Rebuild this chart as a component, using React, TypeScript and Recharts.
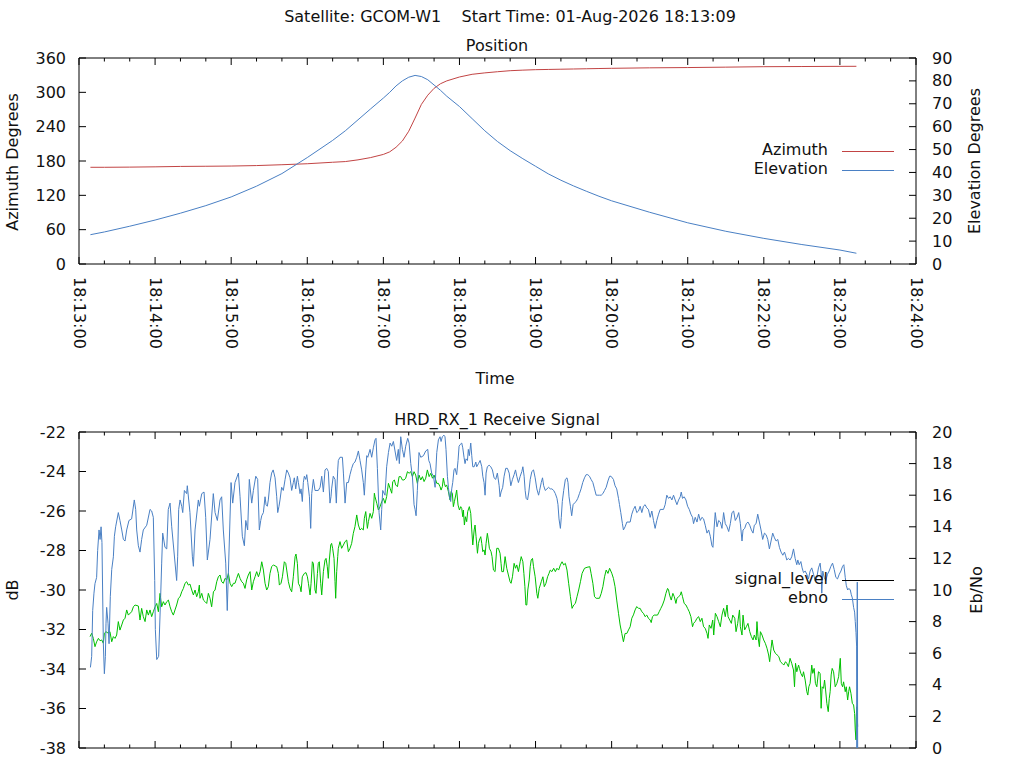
import React from 'react';
import { LineChart, Line, XAxis, YAxis, ReferenceArea } from 'recharts';

const FONT = '"DejaVu Sans", sans-serif';
const RED = '#c24444';
const BLUE = '#4a80c4';
const GREEN = '#00c000';

// seconds after 18:13:00
const timeTicks = [0, 20, 40, 60, 80, 100, 120, 140, 160, 180, 200, 220, 240, 260, 280, 300, 320, 340, 360, 380, 400, 420, 440, 460, 480, 500, 520, 540, 560, 580, 600, 620, 640, 660];
const azTicks = [0, 60, 120, 180, 240, 300, 360];
const elTicks = [0, 10, 20, 30, 40, 50, 60, 70, 80, 90];
const dbTicks = [-38, -36, -34, -32, -30, -28, -26, -24, -22];
const ebTicks = [0, 2, 4, 6, 8, 10, 12, 14, 16, 18, 20];

const posTime = [9, 20, 40, 60, 80, 100, 120, 140, 160, 180, 200, 210, 220, 230, 240, 245, 250, 255, 260, 265, 270, 275, 280, 285, 290, 300, 310, 320, 330, 340, 350, 360, 370, 380, 390, 400, 410, 420, 450, 480, 510, 540, 570, 600, 613];
const azimuth = [169, 169, 169.3, 169.8, 170.5, 170.8, 171.2, 172, 173.5, 175.2, 177.8, 179, 182, 186, 191.5, 196, 204, 215, 232, 255, 279, 295, 307, 315, 320, 326.8, 331.5, 334, 336, 337.8, 338.8, 339.6, 340, 340.4, 340.8, 341.2, 341.6, 342, 342.8, 343.3, 344, 344.8, 345.1, 345.4, 345.5];
const elevation = [12.8, 14, 16.5, 19.2, 22.2, 25.5, 29.3, 34, 39.5, 46.5, 54, 58.2, 63, 67.8, 72.5, 75, 77.8, 80, 81.6, 82.4, 81.9, 80.5, 78.2, 75.9, 73.3, 68.8, 63.5, 58.2, 53.5, 49.5, 46, 42.7, 39.4, 36.6, 34.1, 31.8, 29.6, 27.6, 22.6, 18, 14.3, 11.2, 8.5, 6.1, 4.7];

// [seconds, dB]
const signalLevel: [number, number][] = [
  [8.7, -32.36], [10, -32.19], [11.3, -32.45], [12.6, -32.87], [13.9, -32.62], [15.3, -32.45], [16.6, -32.57], [17.9, -32.53], [19.2, -32.7], [20, -32.19],
  [21.3, -32.11], [23.1, -32.19], [24.4, -32.11], [25.8, -32.62], [27.1, -32.36], [28.4, -32.45], [29.7, -32.28], [31, -31.6], [32.3, -32.03], [33.7, -31.77],
  [35, -31.52], [36.3, -31.43], [37.6, -31.01], [38.9, -31.27], [41.5, -31.1], [42.9, -30.85], [44.2, -30.76], [46.8, -30.81], [48.1, -31.52], [49.4, -30.93],
  [50.7, -31.35], [52.1, -31.6], [53.4, -31.01], [54.7, -31.27], [56, -31.01], [57.3, -31.35], [58.6, -31.1], [60, -30.85], [61.3, -30.68], [62.6, -31.1],
  [63.9, -30.17], [65.2, -30.85], [66.5, -30.59], [67.8, -30.76], [69.2, -30.59], [70.5, -30.51], [71.8, -30.85], [73.1, -31.1], [74.4, -31.27], [75.7, -31.01],
  [77, -30.76], [78.4, -30.42], [79.7, -30.34], [81, -30.09], [82.3, -29.92], [83.6, -29.66], [84.9, -29.58], [86.2, -29.75], [87.5, -29.7], [88.9, -30],
  [90.2, -30.25], [91.5, -30], [92.8, -30.34], [94.1, -30.09], [94.9, -29.75], [95.4, -30.42], [96.8, -30.17], [98.1, -30.51], [99.4, -30.59], [100.7, -30.68],
  [102, -30.17], [103.3, -30.42], [104.6, -30.85], [106, -30.09], [107.3, -30], [108.6, -29.58], [109.9, -29.33], [111.2, -29.24], [112.5, -29.58], [113.8, -29.66],
  [115.2, -29.41], [116.5, -29.49], [117.8, -29.16], [119.1, -29.66], [120.4, -29.83], [121.8, -29.66], [123, -29.66], [124.3, -29.41], [125.7, -29.16], [127, -29.41],
  [128.3, -29.58], [129.6, -29.66], [130.9, -29.92], [132.2, -29.49], [133.5, -29.24], [134.9, -29.07], [136.2, -30], [137.5, -29.58], [138.8, -29.33], [140.1, -29.07],
  [141.5, -29.33], [142.8, -29.07], [144.1, -28.57], [145.4, -28.99], [146.7, -29.66], [148, -30], [149.3, -29.83], [150.6, -29.16], [151.9, -28.82], [153.3, -28.73],
  [154.6, -28.78], [155.9, -28.82], [157.2, -29.16], [158, -29.75], [159.3, -29.66], [160.4, -29.33], [161.9, -28.57], [163, -28.65], [163.8, -28.99], [165.1, -29.58],
  [166.4, -29.92], [167.7, -30.09], [169, -29.33], [170.4, -28.31], [171.1, -28.18], [172.2, -28.65], [173, -29.66], [174.3, -29.83], [175.1, -30.09], [176.1, -29.33],
  [177.7, -29.16], [179, -29.12], [180.1, -29.33], [180.9, -29.66], [182.2, -30.25], [183, -29.66], [184, -28.57], [184.8, -28.65], [186.1, -30], [186.9, -30.17],
  [188, -29.16], [188.7, -28.65], [189.5, -28.57], [190.6, -29.66], [191.4, -30.25], [192.7, -29.07], [194, -28.48], [194.8, -28.4], [195.8, -28.82], [196.6, -29.41],
  [197.4, -28.48], [198.5, -27.72], [199.2, -27.64], [200, -27.89], [201.1, -28.4], [201.9, -29.58], [202.4, -30.42], [203.2, -29.07], [204, -28.31], [204.5, -27.89],
  [205.8, -27.55], [207.1, -27.89], [208.5, -27.72], [209.8, -27.55], [211.1, -27.47], [212.4, -28.06], [213.7, -27.89], [215, -27.64], [216.3, -27.13], [217.6, -26.79],
  [219, -26.2], [220.3, -26.71], [221.6, -26.96], [222.9, -26.88], [224.2, -26.96], [225, -26.37], [226.1, -26.03], [227.4, -26.88], [228.2, -26.54], [229.5, -26.12],
  [230.8, -26.37], [232.1, -26.03], [232.9, -25.1], [233.4, -25.27], [234.8, -25.61], [236.1, -25.95], [237.4, -25.78], [238.7, -25.53], [240, -25.36], [241.3, -25.61],
  [242.6, -25.27], [244, -24.6], [245.3, -24.85], [246.6, -25.1], [247.4, -24.51], [248.7, -24.43], [249.7, -24.68], [251.1, -24.77], [252.4, -24.26], [253.7, -24.26],
  [255, -24.43], [256.3, -24.43], [257.6, -24.34], [259, -24.01], [260.3, -24.09], [261.6, -24.01], [262.9, -24.26], [264.2, -24.01], [265.5, -24.18], [266.8, -24.6],
  [268.1, -24.18], [269.5, -24.43], [270.8, -24.26], [272.1, -24.51], [273.4, -24.34], [274.7, -23.92], [276.1, -24.26], [277.4, -24.09], [278.7, -24.34], [280, -24.18],
  [281.3, -24.43], [282.1, -24.6], [283.4, -24.6], [284.7, -24.77], [285.5, -24.94], [286.5, -24.77], [287.3, -24.34], [288.1, -24.6], [288.9, -24.77], [289.9, -24.68],
  [291.3, -25.02], [292.6, -25.44], [293.4, -25.02], [294.4, -25.1], [295.2, -25.78], [296, -25.53], [297.1, -25.19], [297.8, -24.94], [298.9, -25.7], [300, -25.95],
  [301, -25.78], [301.8, -25.87], [302.6, -26.29], [303.1, -25.95], [303.9, -26.71], [304.7, -26.29], [305.7, -26.54], [306.5, -26.03], [307.8, -25.78], [308.9, -26.12],
  [309.7, -26.96], [310.5, -27.72], [311.6, -26.96], [312.3, -26.71], [313.1, -27.3], [314.2, -28.14], [315, -27.64], [315.7, -27.47], [316.8, -27.3], [317.6, -27.64],
  [318.4, -28.06], [319.4, -27.97], [320.2, -28.23], [321, -27.64], [322, -27.13], [322.8, -27.47], [323.6, -27.89], [324.9, -28.06], [325.7, -28.31], [326.8, -28.99],
  [328.1, -29.07], [329.4, -27.89], [330.7, -27.89], [332, -28.14], [332.8, -28.65], [333.4, -29.07], [334.7, -29.07], [336, -28.31], [337.3, -28.9], [338.6, -29.24],
  [339.9, -29.58], [340.7, -29.66], [341.8, -29.33], [343.1, -28.65], [344.2, -28.9], [345.2, -28.73], [346.5, -29.07], [347.9, -28.57], [348.7, -28.31], [350, -28.57],
  [350.8, -29.16], [351.6, -29.83], [352.4, -30.76], [353.1, -30.76], [353.9, -30], [355, -29.49], [355.8, -28.82], [356.6, -28.48], [357.6, -28.4], [358.4, -28.82],
  [359.7, -29.33], [361, -30.17], [361.8, -30.42], [362.9, -29.92], [364.5, -29.58], [365.8, -29.33], [366.9, -29.83], [368.2, -29.66], [369.5, -29.33], [370.6, -29.16],
  [371.6, -28.99], [372.9, -29.07], [374.3, -28.9], [375.6, -29.07], [376.9, -28.9], [378.2, -28.99], [379.6, -28.73], [380.9, -28.57], [382.2, -28.73], [383.5, -28.65],
  [384.8, -28.99], [386.1, -29.66], [387.5, -30.34], [388.8, -30.93], [390.1, -30.76], [391.4, -30.68], [392.7, -30.34], [394, -30], [395.4, -29.58], [396.7, -29.16],
  [398.6, -28.9], [400.6, -28.85], [402.8, -28.82], [403.8, -29.16], [405.2, -29.66], [406.5, -30.34], [407.8, -30.42], [410.4, -30.42], [411.8, -30.17], [413.1, -29.83],
  [414.4, -29.33], [415.7, -28.99], [417.1, -29.16], [418.4, -28.9], [420.1, -29.15], [421.4, -29.41], [422.7, -29.83], [424, -30.51], [425.4, -31.18], [426.7, -31.77],
  [428, -32.2], [429.3, -32.62], [430.6, -32.2], [432, -32.2], [433.3, -32.02], [434.6, -31.86], [435.9, -31.43], [437.2, -31.26], [438.5, -31.01], [439.8, -30.84],
  [441.2, -30.93], [442.5, -30.93], [443.8, -31.1], [445.1, -31.18], [446.4, -31.35], [447.7, -31.27], [449, -31.43], [450.4, -31.52], [451.2, -31.65], [452.2, -31.35],
  [453.5, -31.27], [456.2, -31.27], [457.5, -31.1], [458.8, -30.93], [460.1, -30.76], [461.5, -30.51], [462.8, -30.17], [464.1, -29.92], [464.9, -30], [465.7, -30.26],
  [467, -30.51], [468.3, -30.17], [469.4, -30.34], [470.7, -30.68], [471.5, -30.42], [472.8, -30.34], [474.1, -30.26], [474.9, -30.09], [475.9, -30.34], [477.2, -30.68],
  [478.6, -30.76], [479.9, -30.93], [481.2, -31.1], [482.5, -31.35], [483.8, -31.86], [484.6, -31.69], [485.9, -31.6], [487.3, -31.43], [488.6, -31.35], [489.9, -31.6],
  [491.2, -31.43], [492.5, -31.86], [493.8, -31.94], [495.2, -32.2], [496, -32.45], [497, -31.77], [498.4, -31.94], [499.7, -31.52], [500.5, -32.28], [501.8, -31.18],
  [503.1, -31.35], [504.4, -31.6], [505.7, -31.86], [507, -31.27], [508.3, -30.93], [509.6, -31.35], [511, -30.76], [511.8, -31.35], [513.1, -31.52], [514.4, -31.69],
  [515.5, -31.27], [517.1, -31.43], [518.1, -32.11], [519.4, -31.69], [520.8, -31.01], [521.5, -31.86], [522.8, -32.28], [523.6, -31.27], [524.9, -32.02], [526.2, -31.86],
  [527.5, -31.69], [528.9, -32.11], [530.2, -32.36], [531.5, -32.53], [532.5, -32.28], [533.9, -32.53], [534.6, -31.6], [535.4, -32.36], [536.5, -32.87], [537.3, -32.11],
  [538.6, -32.28], [539.9, -32.53], [541.2, -32.7], [542.5, -32.95], [543.8, -33.29], [544.6, -33.63], [545.7, -32.95], [546.5, -32.53], [547.8, -33.04], [549.1, -33.2],
  [550.5, -33.29], [551.8, -33.37], [553.1, -33.63], [554.4, -33.71], [555.8, -33.8], [557.1, -33.63], [558.1, -33.71], [559.4, -33.88], [560.7, -33.46], [562, -33.71],
  [563.4, -34.05], [564.2, -34.9], [565, -33.71], [566, -34.14], [567.4, -33.8], [568.1, -33.97], [569.2, -34.22], [570.5, -34.39], [571.3, -34.14], [572.6, -34.56],
  [573.9, -35.15], [574.7, -35.32], [575.5, -34.9], [576.5, -34.73], [577.8, -33.8], [578.6, -34.22], [579.7, -33.97], [580.7, -34.73], [581.8, -34.9], [583.1, -34.14],
  [584.4, -34.22], [585.2, -35.99], [586, -34.9], [587.1, -34.98], [587.9, -34.56], [588.7, -35.06], [589.7, -35.74], [590.8, -36.16], [591.6, -35.49], [592.3, -35.15],
  [593.1, -34.3], [593.9, -33.97], [595, -34.14], [596.3, -34.9], [597.6, -34.73], [599, -34.39], [600.3, -33.46], [601.1, -34.73], [602.1, -34.9], [602.9, -34.65],
  [604.2, -35.15], [605, -34.9], [606.1, -35.57], [606.9, -35.15], [607.6, -34.9], [608.7, -35.23], [609.8, -35.74], [610.8, -35.82], [611.6, -36.25], [612.1, -37.09],
  [612.7, -37.59], [612.9, -36.41], [613.4, -35.91], [614, -36.92],
];

// [seconds, Eb/No]
const ebno: [number, number][] = [
  [9, 5.1], [10, 5.8], [10.8, 8.7], [11.8, 9.8], [12.6, 10.4], [13.9, 10.8], [14.7, 12.5], [15.8, 13.8], [16.6, 13.2], [17.4, 14],
  [18.1, 13], [19.2, 6.6], [20, 4.7], [20.8, 5.8], [21.3, 7.9], [21.8, 8.9], [22.9, 7.9], [23.7, 6.6], [24.7, 9.6], [25.8, 11.3],
  [27.1, 12.1], [27.9, 13.4], [28.9, 14], [31, 14.9], [32.3, 14.4], [33.7, 13.8], [35, 13.2], [36.3, 13.1], [37.6, 13.8], [39.4, 14.4],
  [41.5, 14.5], [43.6, 15.7], [44.7, 15.1], [45.5, 13.8], [46.8, 12.8], [48.1, 12.4], [49.4, 13.2], [50.7, 13.8], [53.4, 14.1], [56, 15.1],
  [57.3, 15], [58.6, 14.6], [59.7, 10.6], [60.2, 7.5], [61.3, 5.6], [62.8, 5.8], [64.4, 9.6], [65.2, 11.7], [66, 13.6], [67.8, 12.7],
  [69.2, 12.6], [70.4, 15.1], [71.8, 15.5], [73.1, 14], [77, 10.6], [77.8, 12.1], [78.6, 15.1], [79.7, 15.7], [81, 15.3], [81.8, 14.9],
  [83.1, 16.3], [84.9, 16.1], [85.4, 16.6], [87.5, 14.9], [89.4, 12.1], [90.2, 11.5], [91.5, 13.8], [94.1, 15.7], [94.9, 15.3], [96.8, 16.1],
  [98.6, 16.2], [99.9, 14.6], [101.2, 11.9], [103.3, 13.2], [105.9, 16.1], [107.3, 14.9], [109.1, 14.4], [111.2, 15.7], [112.5, 15.9], [113.8, 13.8],
  [115.7, 11.7], [116.9, 8.7], [119.9, 16.8], [121.2, 15.5], [123, 16.8], [125.7, 17.4], [127, 15.9], [128.8, 13.4], [130.4, 12.8], [131.5, 14.4],
  [133, 13.8], [134.3, 17], [136.2, 15.5], [137.5, 16.3], [139.4, 17.2], [140.9, 17], [142.2, 13.8], [143.3, 14.4], [144.1, 14.7], [145.4, 14.9],
  [146.7, 15.9], [147.5, 15.4], [148.5, 15.3], [149.3, 15.7], [150.6, 16.8], [151.9, 17.4], [153.1, 17.6], [154.6, 17.1], [155.9, 15.9], [156.7, 14.9],
  [157.7, 15.3], [158.5, 15.7], [159.8, 16.5], [161.1, 16.3], [162.5, 17], [163.8, 17.6], [165.1, 17.4], [166.4, 17.1], [167.7, 16.3], [169, 16.8],
  [169.8, 17.1], [170.9, 16.4], [172.2, 17.2], [173, 16.8], [174.3, 16.1], [175.1, 16.4], [176.1, 15.6], [176.9, 16.8], [177.7, 17.2], [178.8, 17],
  [179.6, 17.3], [180.4, 16.8], [181.7, 15.9], [182.7, 13.9], [183.5, 16.1], [184.8, 17], [186.1, 16.3], [188.7, 16.3], [190.1, 16.5], [191.4, 17.2],
  [192.7, 16.2], [194, 17.6], [195.3, 17.7], [196.6, 17.5], [197.9, 15.5], [198.7, 15.9], [199.2, 16.4], [200.5, 17.2], [201.9, 17], [202.9, 15.5],
  [204, 17.6], [204.5, 18.2], [205.8, 18.4], [207.7, 18.4], [208.5, 17.4], [209.8, 15.5], [211.1, 16.8], [212.4, 16.8], [213.7, 17.3], [215, 17.7],
  [216.3, 18], [217.6, 18.1], [219, 18.4], [220.3, 18.8], [221.6, 18.2], [222.9, 17.6], [224.2, 16.8], [225, 16], [226.1, 17.6], [226.9, 18.5],
  [227.7, 18.4], [229.5, 18.9], [230.8, 18.4], [232.1, 19], [233.4, 19.5], [234.2, 19.6], [235.3, 17.7], [236.6, 14.9], [237.9, 13.8], [238.7, 15.1],
  [239.5, 16.3], [241.3, 16], [242.6, 17.8], [244, 18.7], [245.3, 19.3], [246.6, 19.1], [247.9, 19.4], [249.2, 18.8], [250.5, 18.2], [251.8, 18.9],
  [252.6, 18], [253.7, 19.7], [255, 18.9], [256.3, 18.4], [257.6, 19.1], [259.2, 19.6], [260.3, 19.3], [261.6, 18], [262.9, 17.2], [264.2, 15.4],
  [265, 15.1], [265.8, 14.7], [266.8, 16.3], [268.1, 18.7], [269.5, 18.4], [271.6, 18.5], [273.4, 18.8], [275, 18.9], [275.8, 18.2], [276.8, 18],
  [278.1, 17.4], [279.5, 17.2], [280.8, 16.5], [281.3, 17.4], [282.1, 18.7], [283.4, 19.5], [284.7, 19.7], [285.5, 19.4], [286.5, 19.7], [287.8, 19.8],
  [288.6, 19.7], [289.4, 18.9], [290.5, 17.2], [291.3, 16.5], [292.1, 15.9], [293.1, 15.6], [293.9, 16.4], [294.7, 16.8], [295.7, 17.6], [296.5, 17.7],
  [297.8, 17.3], [298.9, 18.2], [299.7, 19.1], [300.5, 19.2], [301.8, 19.3], [302.6, 19], [303.6, 18.4], [304.4, 18], [305.2, 18.3], [306.3, 18.2],
  [307, 18.9], [307.8, 18.5], [308.9, 19.3], [309.7, 18.5], [310.5, 17.8], [311.6, 17.8], [312.9, 18.1], [313.6, 17.8], [315, 18], [316.3, 18.2],
  [317.6, 17.8], [318.4, 17.2], [319.4, 16.8], [320.2, 16], [321, 17.4], [322, 17.8], [323.4, 17.9], [324.7, 17.8], [326, 17.6], [327.3, 17.1],
  [328.6, 17], [329.9, 17.4], [331.3, 16.6], [332, 15.9], [332.8, 16.2], [334.1, 16.5], [335.2, 17.2], [336.5, 17.7], [337.8, 17.7], [339.2, 17.4],
  [340.5, 16.6], [341.8, 17], [343.1, 17.3], [344.2, 17.6], [345.2, 17.2], [346.5, 16.8], [347.9, 17.2], [349.2, 17.5], [350, 17.8], [351, 17.2],
  [351.8, 16.3], [352.6, 15.8], [353.7, 15.7], [354.7, 16.2], [355.8, 17], [357.1, 17.5], [358.4, 17.6], [359.7, 17.1], [361, 16.4], [362.4, 16],
  [363.2, 16.3], [364.5, 16.8], [365.5, 17.1], [366.4, 16.6], [367.7, 16.3], [369, 16.4], [370.3, 16.5], [371.6, 16.4], [372.9, 16.4], [374.3, 16.3],
  [375.6, 16.1], [376.9, 15.8], [377.7, 15.4], [378.5, 14.5], [379.6, 13.9], [380.3, 14.6], [381.1, 15.6], [382.2, 16.3], [383.5, 17], [384.8, 17.1],
  [385.6, 16.8], [386.4, 15.9], [387.5, 15.3], [388.5, 14.7], [389.6, 15.4], [390.6, 15.5], [392, 15.6], [393.3, 15.8], [394.6, 16.1], [395.9, 16.4],
  [397.2, 16.8], [398.6, 17.1], [399.9, 17.3], [401.2, 17.3], [402.5, 17.2], [403.8, 17], [405.2, 16.8], [406.5, 16.4], [407.8, 16], [409.1, 16],
  [410.4, 16], [411.8, 16], [413.1, 16.1], [414.4, 16.3], [415.7, 16.5], [417.1, 16.9], [418.4, 17.2], [419.5, 17.2], [421.4, 17], [422.7, 16.6],
  [424, 16.4], [425.4, 15.8], [426.2, 15.4], [427.2, 14.9], [428.5, 14.2], [429.3, 13.8], [430.6, 14], [432, 14.3], [434.6, 14.3], [435.9, 14.8],
  [437.2, 15.1], [438.5, 15.3], [439.8, 14.9], [441.2, 15], [442.5, 15.3], [443.8, 14.9], [445.1, 15.3], [446.4, 15.4], [447.7, 15.2], [449, 15.1],
  [450.4, 14.6], [451.7, 15], [453, 14.4], [454.3, 13.9], [455.6, 14.4], [457, 14.8], [458.3, 15.1], [460.9, 15.1], [462.2, 15.4], [463.5, 16],
  [464.9, 15.8], [466.2, 15.9], [467.5, 15.7], [468.8, 16], [470.1, 15.7], [471.5, 15.4], [472.8, 15.7], [474.1, 15.9], [474.9, 16.2], [475.9, 15.8],
  [477.2, 15.9], [478.6, 15.7], [479.9, 15.3], [481.2, 15.1], [482.5, 14.8], [483.8, 14.6], [484.6, 14.2], [485.9, 14.6], [487.3, 14.3], [488.6, 14.8],
  [489.9, 14.4], [491.2, 14.6], [492.5, 14.5], [493.8, 14.1], [495.2, 13.6], [496.5, 13.8], [497.8, 13.4], [499.1, 12.8], [499.9, 12.7], [500.7, 13.8],
  [501.7, 14.9], [503.1, 14], [504.4, 14.4], [505.7, 14.3], [507, 13.9], [508.3, 14.9], [509.6, 14.2], [511, 14], [512.3, 13.7], [513.6, 14.2],
  [514.9, 14.9], [516.2, 15], [517.5, 14.4], [518.9, 14.6], [520.2, 14.9], [521.5, 14.2], [522.8, 13.1], [523.6, 13.8], [524.9, 13.9], [526.2, 14.2],
  [527.5, 14.3], [528.9, 14.1], [530.2, 13.8], [531.5, 13.6], [532.5, 14.1], [533.9, 14.2], [535.2, 14.8], [536.5, 14.3], [537.8, 13.8], [539.1, 13.2],
  [540.5, 13.6], [541.8, 13.5], [543.1, 13.2], [544.4, 12.6], [545.7, 13.1], [547, 13.6], [548.4, 13.3], [549.7, 13.1], [551, 13.2], [552.3, 12.7],
  [553.6, 12.4], [555, 12.2], [556.3, 12.4], [557.1, 12.2], [558.1, 11.9], [559.4, 12], [560.7, 11.9], [562, 12.1], [563.4, 12.6], [564.7, 12],
  [566, 11.6], [566.8, 11.9], [567.9, 11.6], [569.2, 11.8], [570.2, 11.4], [571.3, 11.1], [572.6, 11.2], [573.9, 11], [575.2, 10.7], [576.5, 11.2],
  [577.8, 11.4], [579.2, 11], [580.5, 10.6], [581.8, 10.8], [583.1, 11.4], [584.4, 11.7], [585.2, 11.1], [585.7, 9.8], [586.5, 11.2], [587.6, 10.8],
  [588.9, 10.6], [590.2, 11], [591.5, 11.2], [592.9, 11.5], [594.2, 11.7], [595.5, 11.3], [596.8, 10.8], [598.1, 10.7], [599.5, 11], [600.8, 11.2],
  [602.1, 11.5], [603.1, 11.6], [604.2, 10.8], [605, 10.3], [606.1, 10], [607.1, 10.1], [608.2, 10], [609, 9.7], [609.8, 9.5], [610.8, 8.9],
  [611.6, 8.6], [612.1, 8], [612.7, 7.3], [613.2, 6.4], [613.4, 0], [613.7, 10.5], [614, 0],
];

const positionRows = posTime.map((t, i) => ({ t, az: azimuth[i], el: elevation[i] }));
const signalRows = signalLevel.map(([t, v]) => ({ t, v }));
const ebnoRows = ebno.map(([t, v]) => ({ t, v }));

const fmtTime = (s: number) => `18:${13 + Math.round(s / 60)}:00`;

const TimeTick = (props: any) => {
  const { x, y, payload, plotH, labels } = props;
  const major = payload.value % 60 === 0;
  const len = major ? 7 : 3.5;
  return (
    <g>
      <line x1={x} y1={y} x2={x} y2={y - len} stroke="#000" />
      <line x1={x} y1={y - plotH} x2={x} y2={y - plotH + len} stroke="#000" />
      {labels && major && (
        <text
          x={x}
          y={y + 13}
          transform={`rotate(90 ${x} ${y + 13})`}
          textAnchor="start"
          dominantBaseline="central"
          fontFamily={FONT}
          fontSize={16}
          fill="#111"
        >
          {fmtTime(payload.value)}
        </text>
      )}
    </g>
  );
};

const LeftTick = (props: any) => {
  const { x, y, payload } = props;
  return (
    <g>
      <line x1={x} y1={y} x2={x + 7} y2={y} stroke="#000" />
      <text x={x - 13} y={y} textAnchor="end" dominantBaseline="central" fontFamily={FONT} fontSize={16} fill="#111">
        {payload.value}
      </text>
    </g>
  );
};

const RightTick = (props: any) => {
  const { x, y, payload } = props;
  return (
    <g>
      <line x1={x} y1={y} x2={x - 7} y2={y} stroke="#000" />
      <text x={x + 16} y={y} textAnchor="start" dominantBaseline="central" fontFamily={FONT} fontSize={16} fill="#111">
        {payload.value}
      </text>
    </g>
  );
};

const Txt = ({ x, y, text, rotate = 0, anchor = 'middle' }: { x: number; y: number; text: string; rotate?: number; anchor?: string }) => (
  <div
    style={{
      position: 'absolute',
      left: x,
      top: y,
      whiteSpace: 'pre',
      lineHeight: 1,
      transform: `translate(${anchor === 'end' ? '-100%' : '-50%'}, -50%) rotate(${rotate}deg)`,
    }}
  >
    {text}
  </div>
);

const LegendLine = ({ y, color }: { y: number; color: string }) => (
  <div style={{ position: 'absolute', left: 842, top: y, width: 52, height: 1, background: color }} />
);

export default function App() {
  return (
    <div
      style={{
        position: 'absolute',
        left: 0,
        top: 0,
        width: 1024,
        height: 768,
        overflow: 'hidden',
        background: '#fff',
        fontFamily: FONT,
        fontSize: 16,
        color: '#111',
      }}
    >
      <div style={{ position: 'absolute', left: 0, top: 0 }}>
        <LineChart width={1024} height={400} data={positionRows} margin={{ top: 58, right: 48, bottom: 36, left: 19 }}>
          <XAxis
            dataKey="t"
            type="number"
            domain={[0, 660]}
            ticks={timeTicks}
            interval={0}
            height={100}
            tickSize={0}
            tickMargin={0}
            tickLine={false}
            axisLine={false}
            tick={<TimeTick plotH={206} labels />}
          />
          <YAxis yAxisId="az" domain={[0, 360]} ticks={azTicks} interval={0} width={60} tickSize={0} tickMargin={0} tickLine={false} axisLine={false} tick={<LeftTick />} />
          <YAxis yAxisId="el" orientation="right" domain={[0, 90]} ticks={elTicks} interval={0} width={60} tickSize={0} tickMargin={0} tickLine={false} axisLine={false} tick={<RightTick />} />
          <ReferenceArea yAxisId="az" x1={0} x2={660} y1={0} y2={360} fill="none" fillOpacity={0} stroke="#000" strokeOpacity={1} />
          <Line yAxisId="az" type="linear" dataKey="az" stroke={RED} strokeWidth={1} dot={false} isAnimationActive={false} />
          <Line yAxisId="el" type="linear" dataKey="el" stroke={BLUE} strokeWidth={1} dot={false} isAnimationActive={false} />
        </LineChart>
      </div>
      <div style={{ position: 'absolute', left: 0, top: 400 }}>
        <LineChart width={1024} height={368} margin={{ top: 32, right: 48, bottom: 0, left: 19 }}>
          <XAxis
            dataKey="t"
            type="number"
            domain={[0, 660]}
            ticks={timeTicks}
            interval={0}
            height={20}
            tickSize={0}
            tickMargin={0}
            tickLine={false}
            axisLine={false}
            tick={<TimeTick plotH={316} labels={false} />}
          />
          <YAxis yAxisId="db" domain={[-38, -22]} ticks={dbTicks} interval={0} width={60} tickSize={0} tickMargin={0} tickLine={false} axisLine={false} tick={<LeftTick />} />
          <YAxis yAxisId="eb" orientation="right" domain={[0, 20]} ticks={ebTicks} interval={0} width={60} tickSize={0} tickMargin={0} tickLine={false} axisLine={false} tick={<RightTick />} />
          <ReferenceArea yAxisId="db" x1={0} x2={660} y1={-38} y2={-22} fill="none" fillOpacity={0} stroke="#000" strokeOpacity={1} />
          <Line data={signalRows} yAxisId="db" type="linear" dataKey="v" stroke={GREEN} strokeWidth={1} dot={false} isAnimationActive={false} />
          <Line data={ebnoRows} yAxisId="eb" type="linear" dataKey="v" stroke={BLUE} strokeWidth={1} dot={false} isAnimationActive={false} />
        </LineChart>
      </div>

      <Txt x={510} y={17} text={'Satellite: GCOM-W1    Start Time: 01-Aug-2026 18:13:09'} />
      <Txt x={497} y={46} text="Position" />
      <Txt x={495} y={379} text="Time" />
      <Txt x={13} y={162} text="Azimuth Degrees" rotate={-90} />
      <Txt x={975} y={161} text="Elevation Degrees" rotate={-90} />
      <Txt x={828} y={150} text="Azimuth" anchor="end" />
      <LegendLine y={151} color={RED} />
      <Txt x={828} y={169} text="Elevation" anchor="end" />
      <LegendLine y={170} color={BLUE} />

      <Txt x={497} y={420} text="HRD_RX_1 Receive Signal" />
      <Txt x={13} y={590} text="dB" rotate={-90} />
      <Txt x={977} y={590} text="Eb/No" rotate={-90} />
      <Txt x={828} y={579} text="signal_level" anchor="end" />
      <LegendLine y={580} color="#000" />
      <Txt x={828} y={598} text="ebno" anchor="end" />
      <LegendLine y={599} color={BLUE} />
    </div>
  );
}
